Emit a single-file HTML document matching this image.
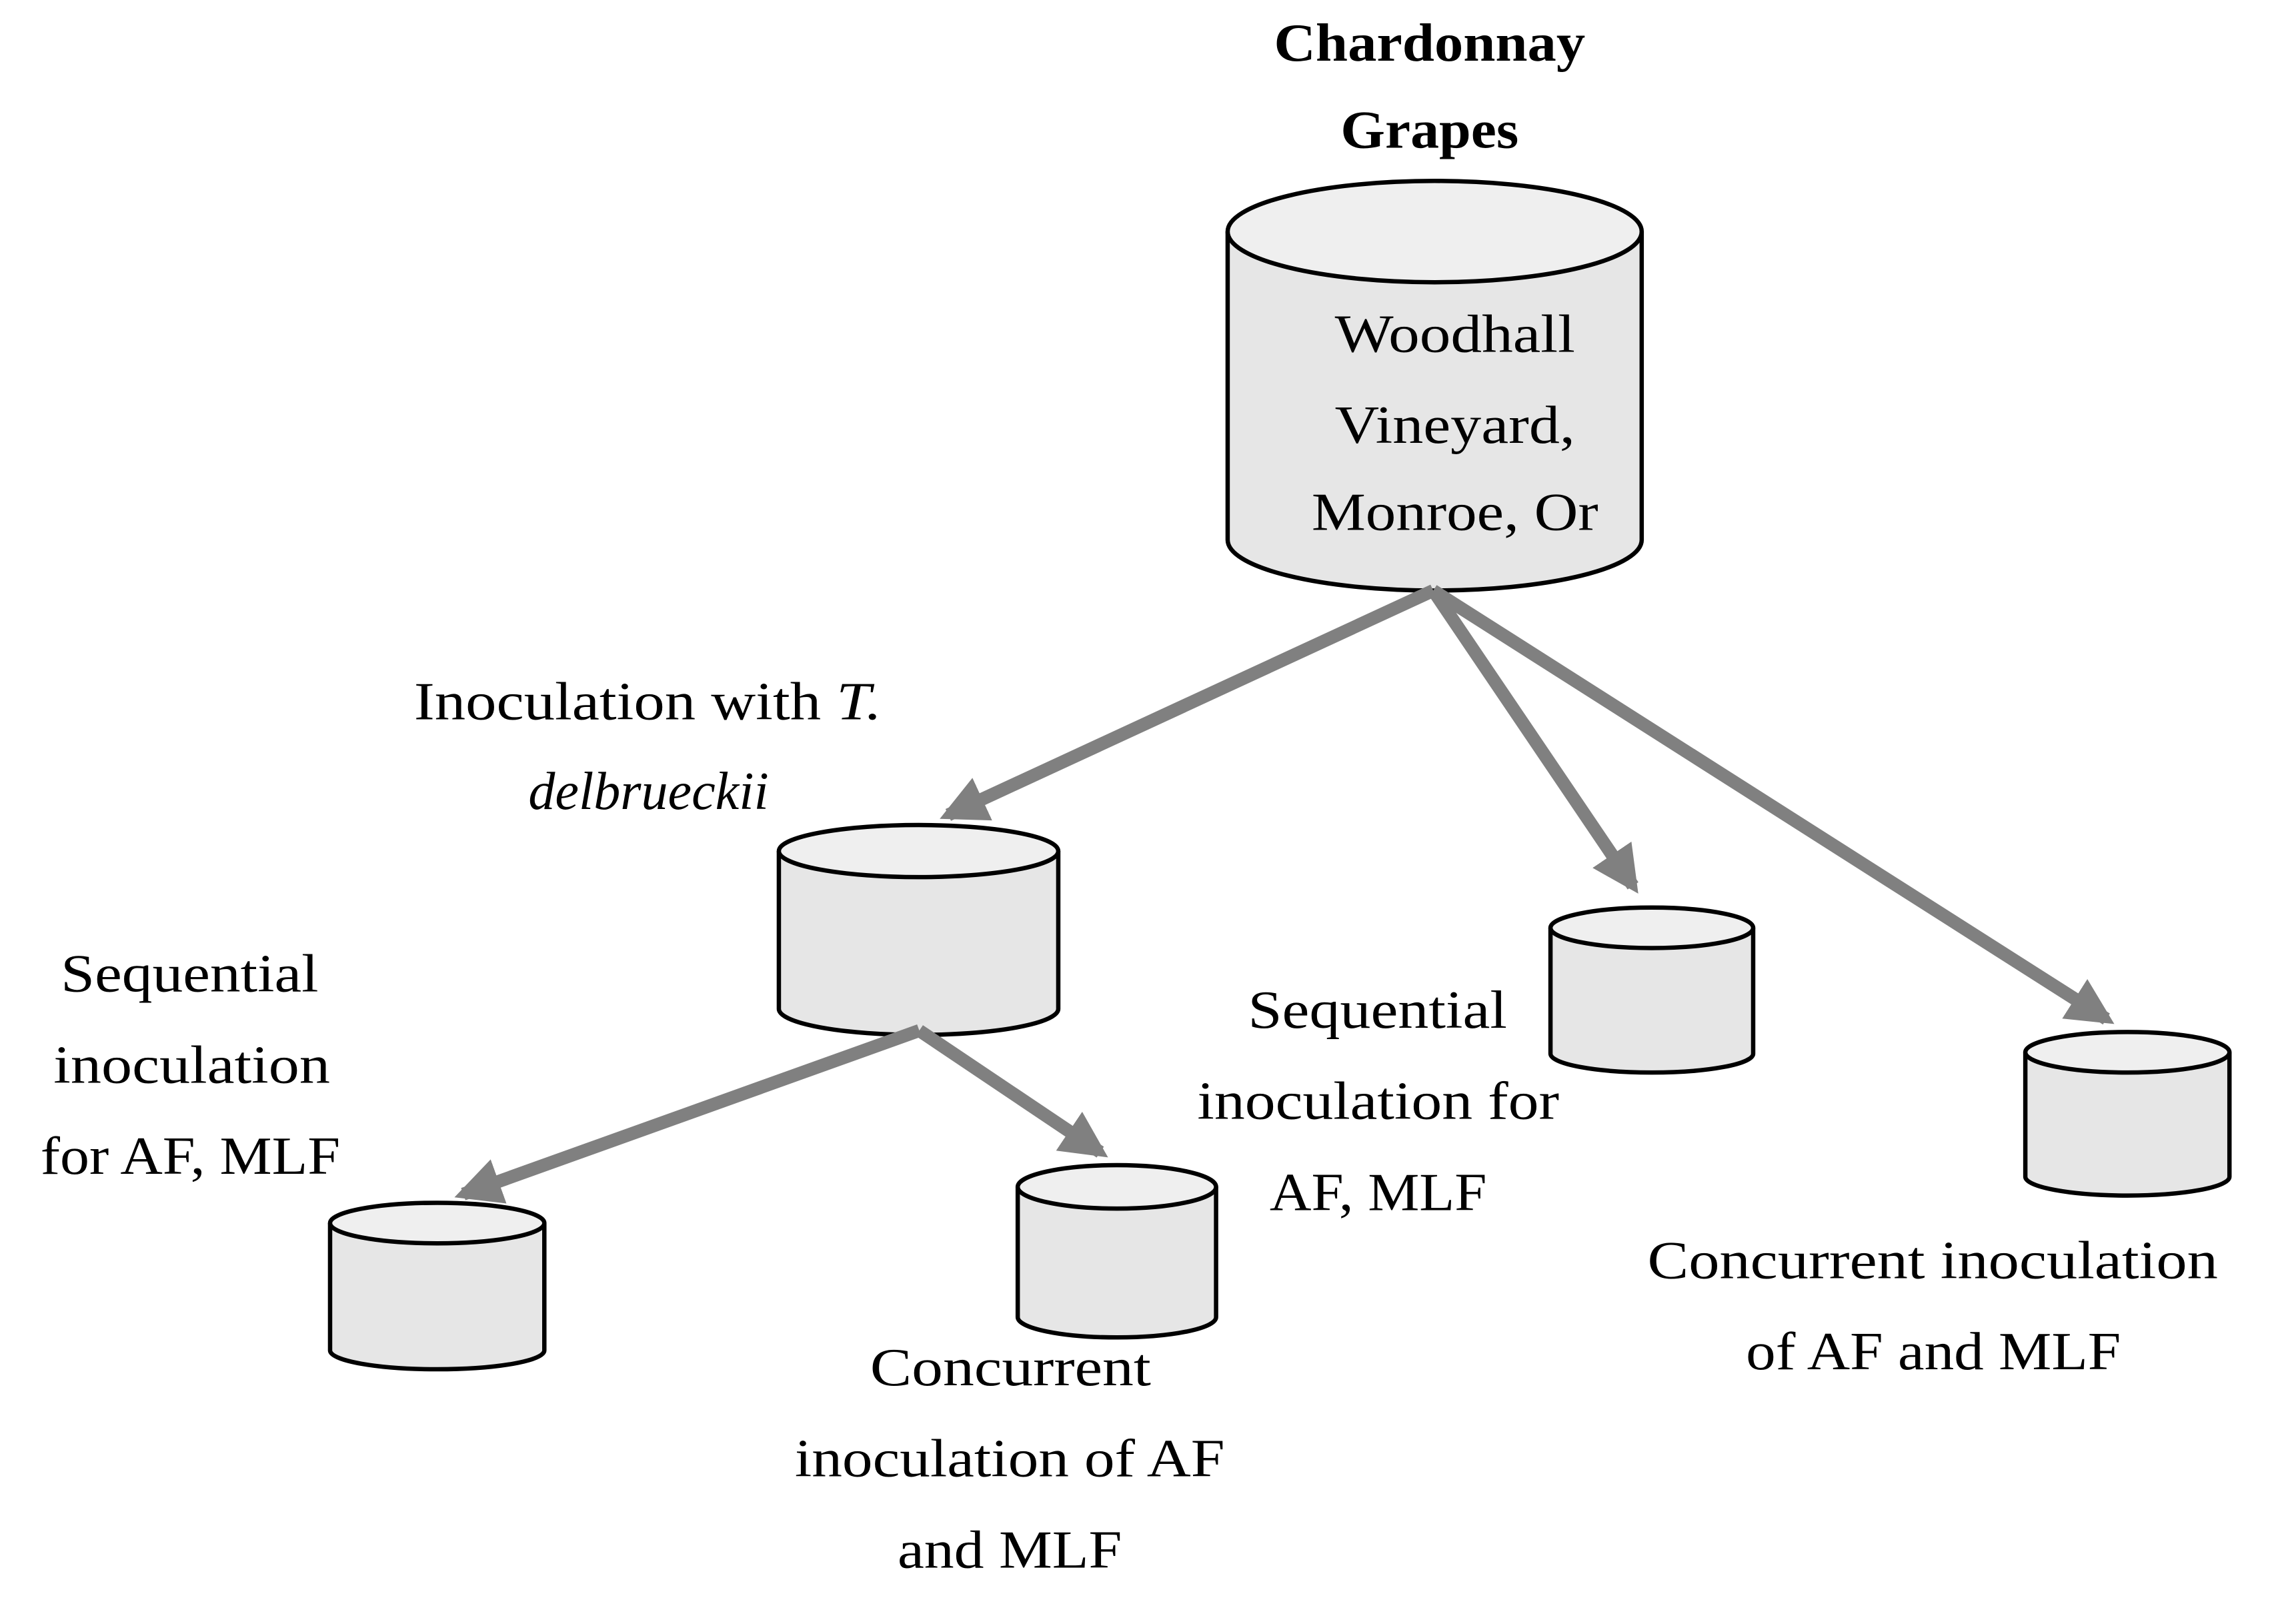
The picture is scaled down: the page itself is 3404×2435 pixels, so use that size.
<!DOCTYPE html>
<html><head><meta charset="utf-8"><style>
html,body{margin:0;padding:0;background:#fff;}
svg{display:block;}
text{font-family:"Liberation Serif",serif;font-size:37px;fill:#000;}
</style></head><body>
<svg width="3404" height="2435" viewBox="0 0 1568 1122" preserveAspectRatio="none" xmlns="http://www.w3.org/2000/svg">
<defs>
<marker id="ah" viewBox="0 0 10 10" refX="8" refY="5" markerWidth="3.6" markerHeight="3.6" orient="auto" markerUnits="strokeWidth">
<path d="M0,0 L10,5 L0,10 z" fill="#808080"/></marker>
</defs>
<g stroke="#000" stroke-width="3">
<path d="M848,160 V373 A143,35 0 0 0 1134,373 V160" fill="#e6e6e6"/>
<ellipse cx="991" cy="160" rx="143" ry="35" fill="#efefef"/>
<path d="M538,588 V697 A96.5,18 0 0 0 731,697 V588" fill="#e6e6e6"/>
<ellipse cx="634.5" cy="588" rx="96.5" ry="18" fill="#efefef"/>
<path d="M228,845 V933 A74,13 0 0 0 376,933 V845" fill="#e6e6e6"/>
<ellipse cx="302" cy="845" rx="74" ry="14" fill="#efefef"/>
<path d="M703,820 V910 A68.5,14 0 0 0 840,910 V820" fill="#e6e6e6"/>
<ellipse cx="771.5" cy="820" rx="68.5" ry="15" fill="#efefef"/>
<path d="M1071,641 V728 A70,13 0 0 0 1211,728 V641" fill="#e6e6e6"/>
<ellipse cx="1141" cy="641" rx="70" ry="14" fill="#efefef"/>
<path d="M1399,727 V813 A70.5,13 0 0 0 1540,813 V727" fill="#e6e6e6"/>
<ellipse cx="1469.5" cy="727" rx="70.5" ry="14" fill="#efefef"/>
</g>
<g stroke="#808080" stroke-width="9" fill="none" marker-end="url(#ah)">
<line x1="990" y1="408" x2="655" y2="563"/>
<line x1="990" y1="408" x2="1128" y2="612"/>
<line x1="990" y1="408" x2="1455" y2="704"/>
<line x1="635" y1="712" x2="320" y2="825"/>
<line x1="635" y1="712" x2="760" y2="796"/>
</g>
<g>
<text x="880" y="42" font-weight="bold" textLength="215" lengthAdjust="spacingAndGlyphs">Chardonnay</text>
<text x="926" y="102" font-weight="bold" textLength="123" lengthAdjust="spacingAndGlyphs">Grapes</text>
<text x="922" y="243" textLength="166" lengthAdjust="spacingAndGlyphs">Woodhall</text>
<text x="922" y="306" textLength="166" lengthAdjust="spacingAndGlyphs">Vineyard,</text>
<text x="906" y="366" textLength="198" lengthAdjust="spacingAndGlyphs">Monroe, Or</text>
<text x="286" y="497" textLength="323" lengthAdjust="spacingAndGlyphs">Inoculation with <tspan font-style="italic">T.</tspan></text>
<text x="365" y="559" font-style="italic" textLength="166" lengthAdjust="spacingAndGlyphs">delbrueckii</text>
<text x="42" y="685" textLength="178" lengthAdjust="spacingAndGlyphs">Sequential</text>
<text x="37" y="748" textLength="191" lengthAdjust="spacingAndGlyphs">inoculation</text>
<text x="28" y="811" textLength="207" lengthAdjust="spacingAndGlyphs">for AF, MLF</text>
<text x="601" y="957" textLength="194" lengthAdjust="spacingAndGlyphs">Concurrent</text>
<text x="549" y="1020" textLength="297" lengthAdjust="spacingAndGlyphs">inoculation of AF</text>
<text x="620" y="1083" textLength="155" lengthAdjust="spacingAndGlyphs">and MLF</text>
<text x="862" y="710" textLength="179" lengthAdjust="spacingAndGlyphs">Sequential</text>
<text x="827" y="773" textLength="250" lengthAdjust="spacingAndGlyphs">inoculation for</text>
<text x="877" y="836" textLength="150" lengthAdjust="spacingAndGlyphs">AF, MLF</text>
<text x="1138" y="883" textLength="394" lengthAdjust="spacingAndGlyphs">Concurrent inoculation</text>
<text x="1206" y="946" textLength="259" lengthAdjust="spacingAndGlyphs">of AF and MLF</text>
</g>
</svg>
</body></html>
